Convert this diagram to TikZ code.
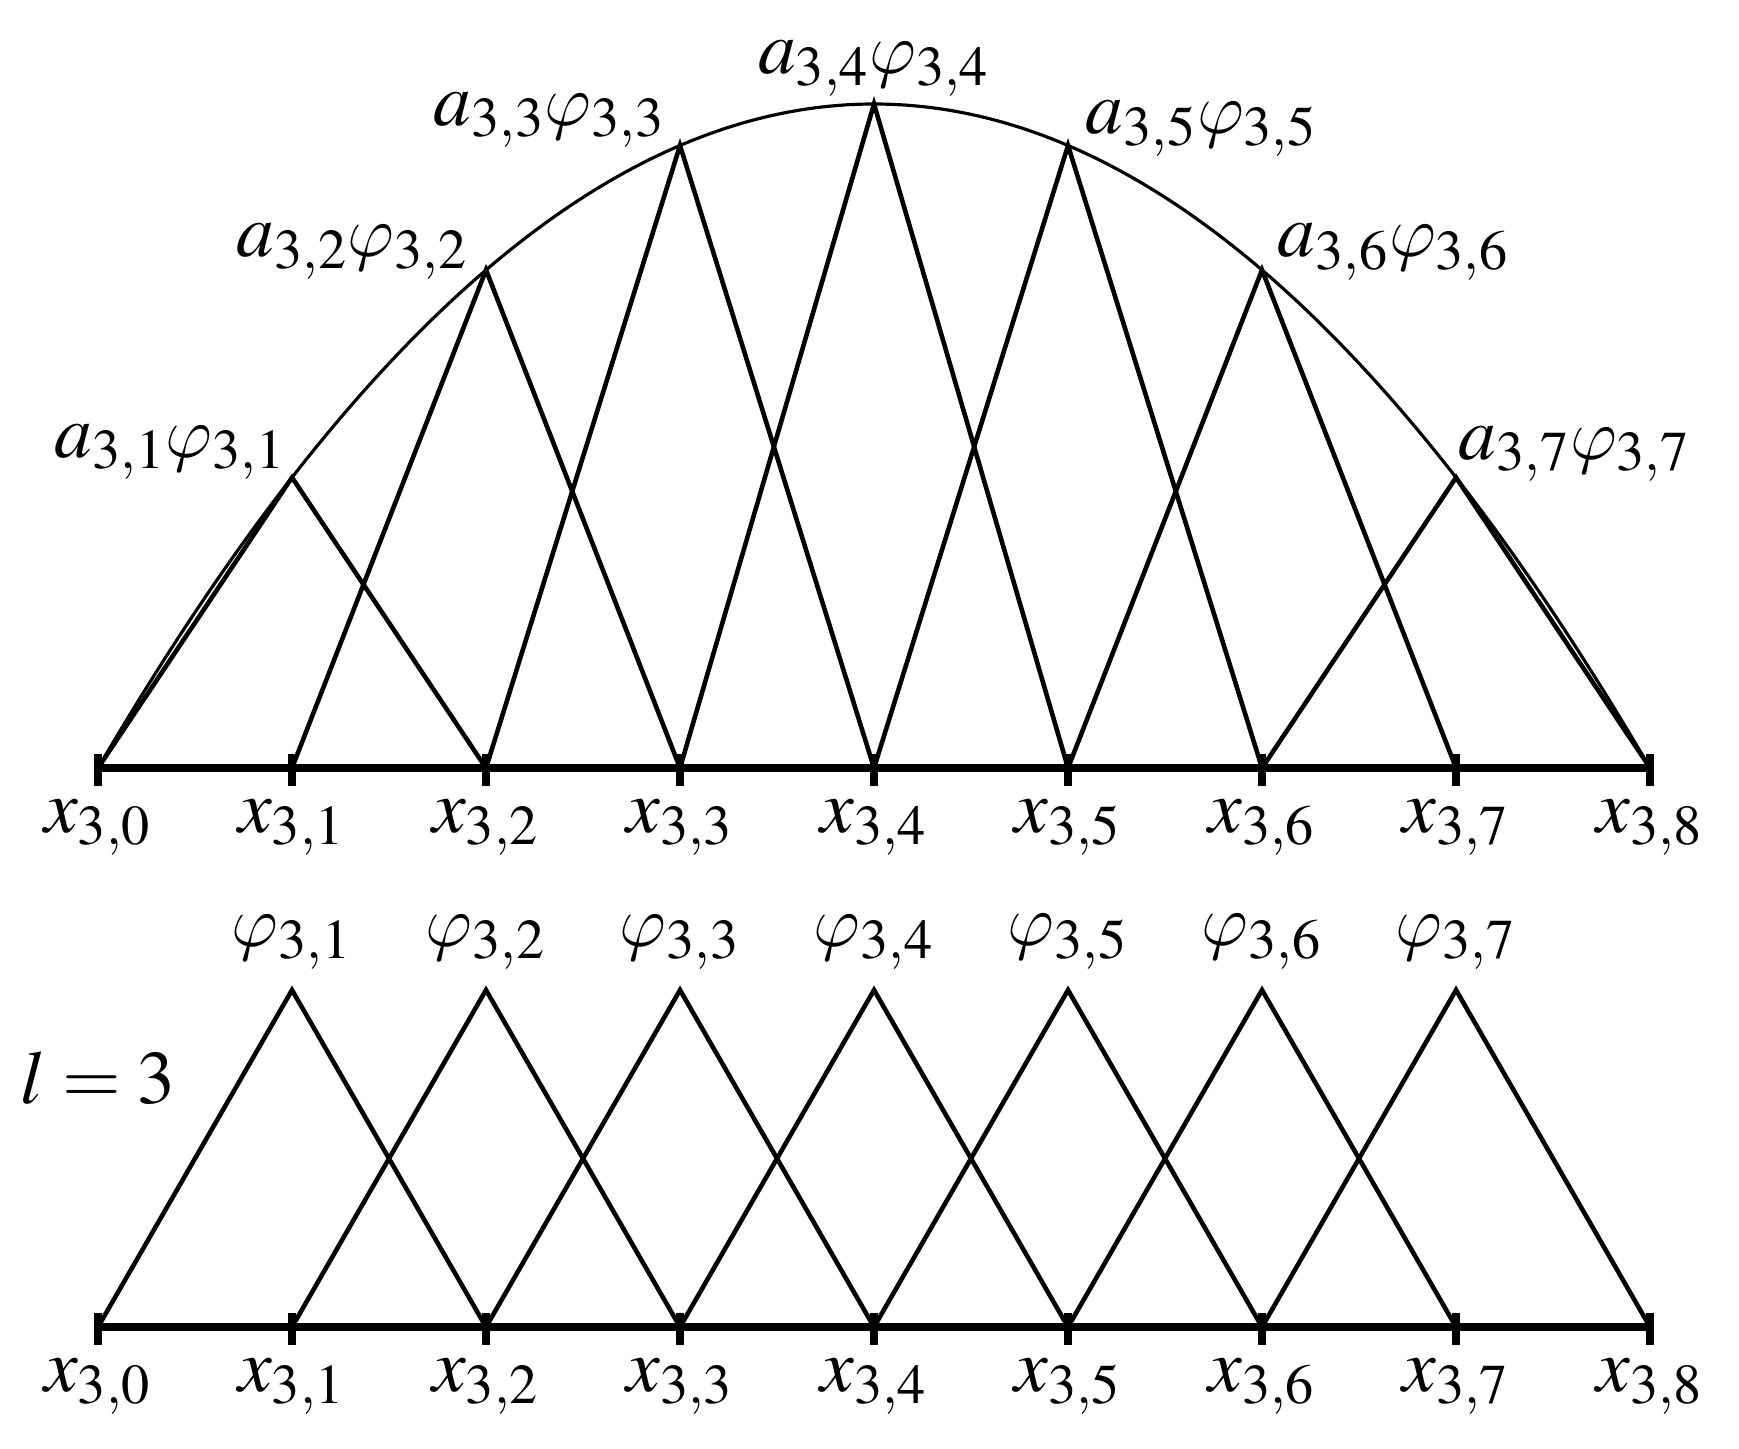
\documentclass[tikz,border=0pt]{standalone}
\usepackage{mathptmx}
\DeclareMathSizes{21.5}{21.5}{16}{12}
% loopy italic phi
\DeclareSymbolFont{cmletters}{OML}{cmm}{m}{it}
\DeclareMathSymbol{\varphi}{\mathord}{cmletters}{"27}

\begin{document}
\begin{tikzpicture}[
  hat/.style={line width=1.3pt},
  axisline/.style={line width=2.4pt},
  tickmark/.style={line width=2.3pt},
  curve/.style={line width=0.9pt},
  lbl/.style={inner sep=0pt, font=\fontsize{21.5}{26}\selectfont}]
\useasboundingbox (0,0) rectangle (17.39,14.48);
% grid points x_{3,k}, upper and lower axis
\foreach \k in {0,...,8}{
  \coordinate (t\k) at ({0.98+1.94*\k},6.80);
  \coordinate (b\k) at ({0.98+1.94*\k},1.21);
}
% tops of the hats
\foreach \k in {1,...,7}{
  \coordinate (ta\k) at ({0.98+1.94*\k},{6.80+6.64*\k*(8-\k)/16});
  \coordinate (ba\k) at ({0.98+1.94*\k},4.58);
}
% the function
\draw[curve] plot[domain=0:8, samples=80, smooth] ({0.98+1.94*\x},{6.80+6.64*\x*(8-\x)/16});
% hat functions
\foreach \k [evaluate=\k as \km using int(\k-1), evaluate=\k as \kp using int(\k+1)] in {1,...,7}{
  \draw[hat] (t\km) -- (ta\k) -- (t\kp);
  \draw[hat] (b\km) -- (ba\k) -- (b\kp);
}
% axes and ticks
\draw[axisline] (t0) -- (t8);
\draw[axisline] (b0) -- (b8);
\foreach \k in {0,...,8}{
  \draw[tickmark] ([yshift=0.14cm]t\k) -- ([yshift=-0.18cm]t\k);
  \draw[tickmark] ([yshift=0.14cm]b\k) -- ([yshift=-0.18cm]b\k);
  \node[lbl, anchor=north] (xt\k) at ([yshift=-0.31cm]t\k) {$x_{3,\k}$};
  \node[lbl, anchor=north] (xb\k) at ([yshift=-0.31cm]b\k) {$x_{3,\k}$};
}
% labels
\foreach \k/\anc/\dx/\dy in {1/south east/-0.05/-0.03, 2/south east/-0.17/-0.10,
    3/south east/-0.14/-0.03, 4/south/0/0.07, 5/south west/0.17/-0.12,
    6/south west/0.15/-0.11, 7/south west/0.02/-0.05}{
  \node[lbl, anchor=\anc] (at\k) at ([xshift=\dx cm, yshift=\dy cm]ta\k) {$a_{3,\k}\varphi_{3,\k}$};
  \node[lbl, anchor=south] (pb\k) at ([yshift=0.2cm]ba\k) {$\varphi_{3,\k}$};
}
\node[lbl] (lvl) at (0.98,3.70) {$l = 3$};
\end{tikzpicture}
\end{document}
